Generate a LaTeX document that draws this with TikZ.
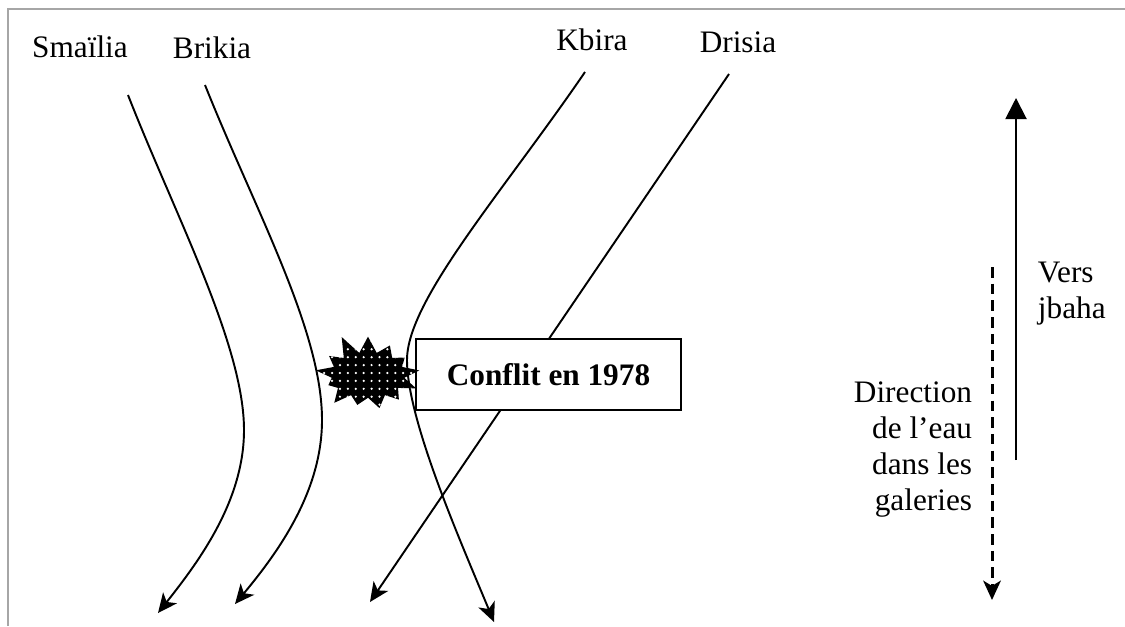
\documentclass[tikz,border=0pt]{standalone}
\usepackage{fontspec}
\setmainfont{Liberation Serif}
\usetikzlibrary{arrows.meta,shapes.symbols,patterns.meta}

\begin{document}
\begin{tikzpicture}[x=0.02cm,y=-0.02cm,line width=1.1pt,
    font=\fontsize{17.8pt}{20.4pt}\selectfont,
    galname/.style={inner sep=0pt,anchor=base},
    gallery/.style={-{Stealth[length=11pt,width=10pt,inset=3pt]}}]
    \useasboundingbox (0,0) rectangle (1125,626);
    %frame
    \draw[black!35,line width=1.2pt] (8,626) -- (8,9) -- (1125,9);

    %gallery names
    \node[galname] (smailia) at (80,57) {Smaïlia};
    \node[galname] (brikia) at (212,58) {Brikia};
    \node[galname] (kbira) at (592,50) {Kbira};
    \node[galname] (drisia) at (738,52) {Drisia};

    %gallery ends
    \coordinate (smailia-in) at (128,95);
    \coordinate (smailia-out) at (158,613);
    \coordinate (brikia-in) at (205,85);
    \coordinate (brikia-out) at (235,604);
    \coordinate (kbira-in) at (585,72);
    \coordinate (kbira-out) at (494,622);
    \coordinate (drisia-in) at (729,74);
    \coordinate (drisia-out) at (370,602);

    \draw[gallery] (smailia-in) .. controls (175,215) and (244,345) .. (244,430)
        .. controls (244,500) and (200,560) .. (smailia-out);
    \draw[gallery] (brikia-in) .. controls (255,210) and (322,330) .. (322,420)
        .. controls (322,490) and (280,550) .. (brikia-out);
    \draw[gallery] (kbira-in) .. controls (503,192) and (407,300) .. (407,360)
        .. controls (407,420) and (460,540) .. (kbira-out);
    \path (drisia-in) edge[gallery] (drisia-out);

    %conflict
    \node[draw,fill=white,line width=1.4pt,minimum width=5.3cm,minimum height=1.42cm,
        font=\fontsize{17.8pt}{20.4pt}\selectfont\bfseries] (conflit) at (548.5,374.5) {Conflit en 1978};
    \node[starburst,starburst points=13,starburst point height=0.42cm,random starburst=11,
        minimum width=2.3cm,minimum height=1.75cm,inner sep=0pt,preaction={fill=black},
        pattern={Dots[distance=4.5pt,radius=0.7pt]},pattern color=white] (clash) at (368,375) {};

    %flow directions
    \coordinate (vers-from) at (1016,460);
    \coordinate (vers-to) at (1016,98);
    \coordinate (eau-from) at (992,267);
    \coordinate (eau-to) at (992,600);
    \draw[-{Triangle[length=12pt,width=12pt]}] (vers-from) -- (vers-to);
    \draw[line width=1.7pt,dash pattern=on 6pt off 3.5pt,-{Stealth[length=11pt,width=10pt,inset=3pt]}] (eau-from) -- (eau-to);
    \node[inner sep=0pt,anchor=north west,align=left] (vers) at (1037,261) {Vers\\jbaha};
    \node[inner sep=0pt,anchor=north east,align=right] (direction) at (973,381) {Direction\\de l’eau\\dans les\\galeries};
\end{tikzpicture}
\end{document}
